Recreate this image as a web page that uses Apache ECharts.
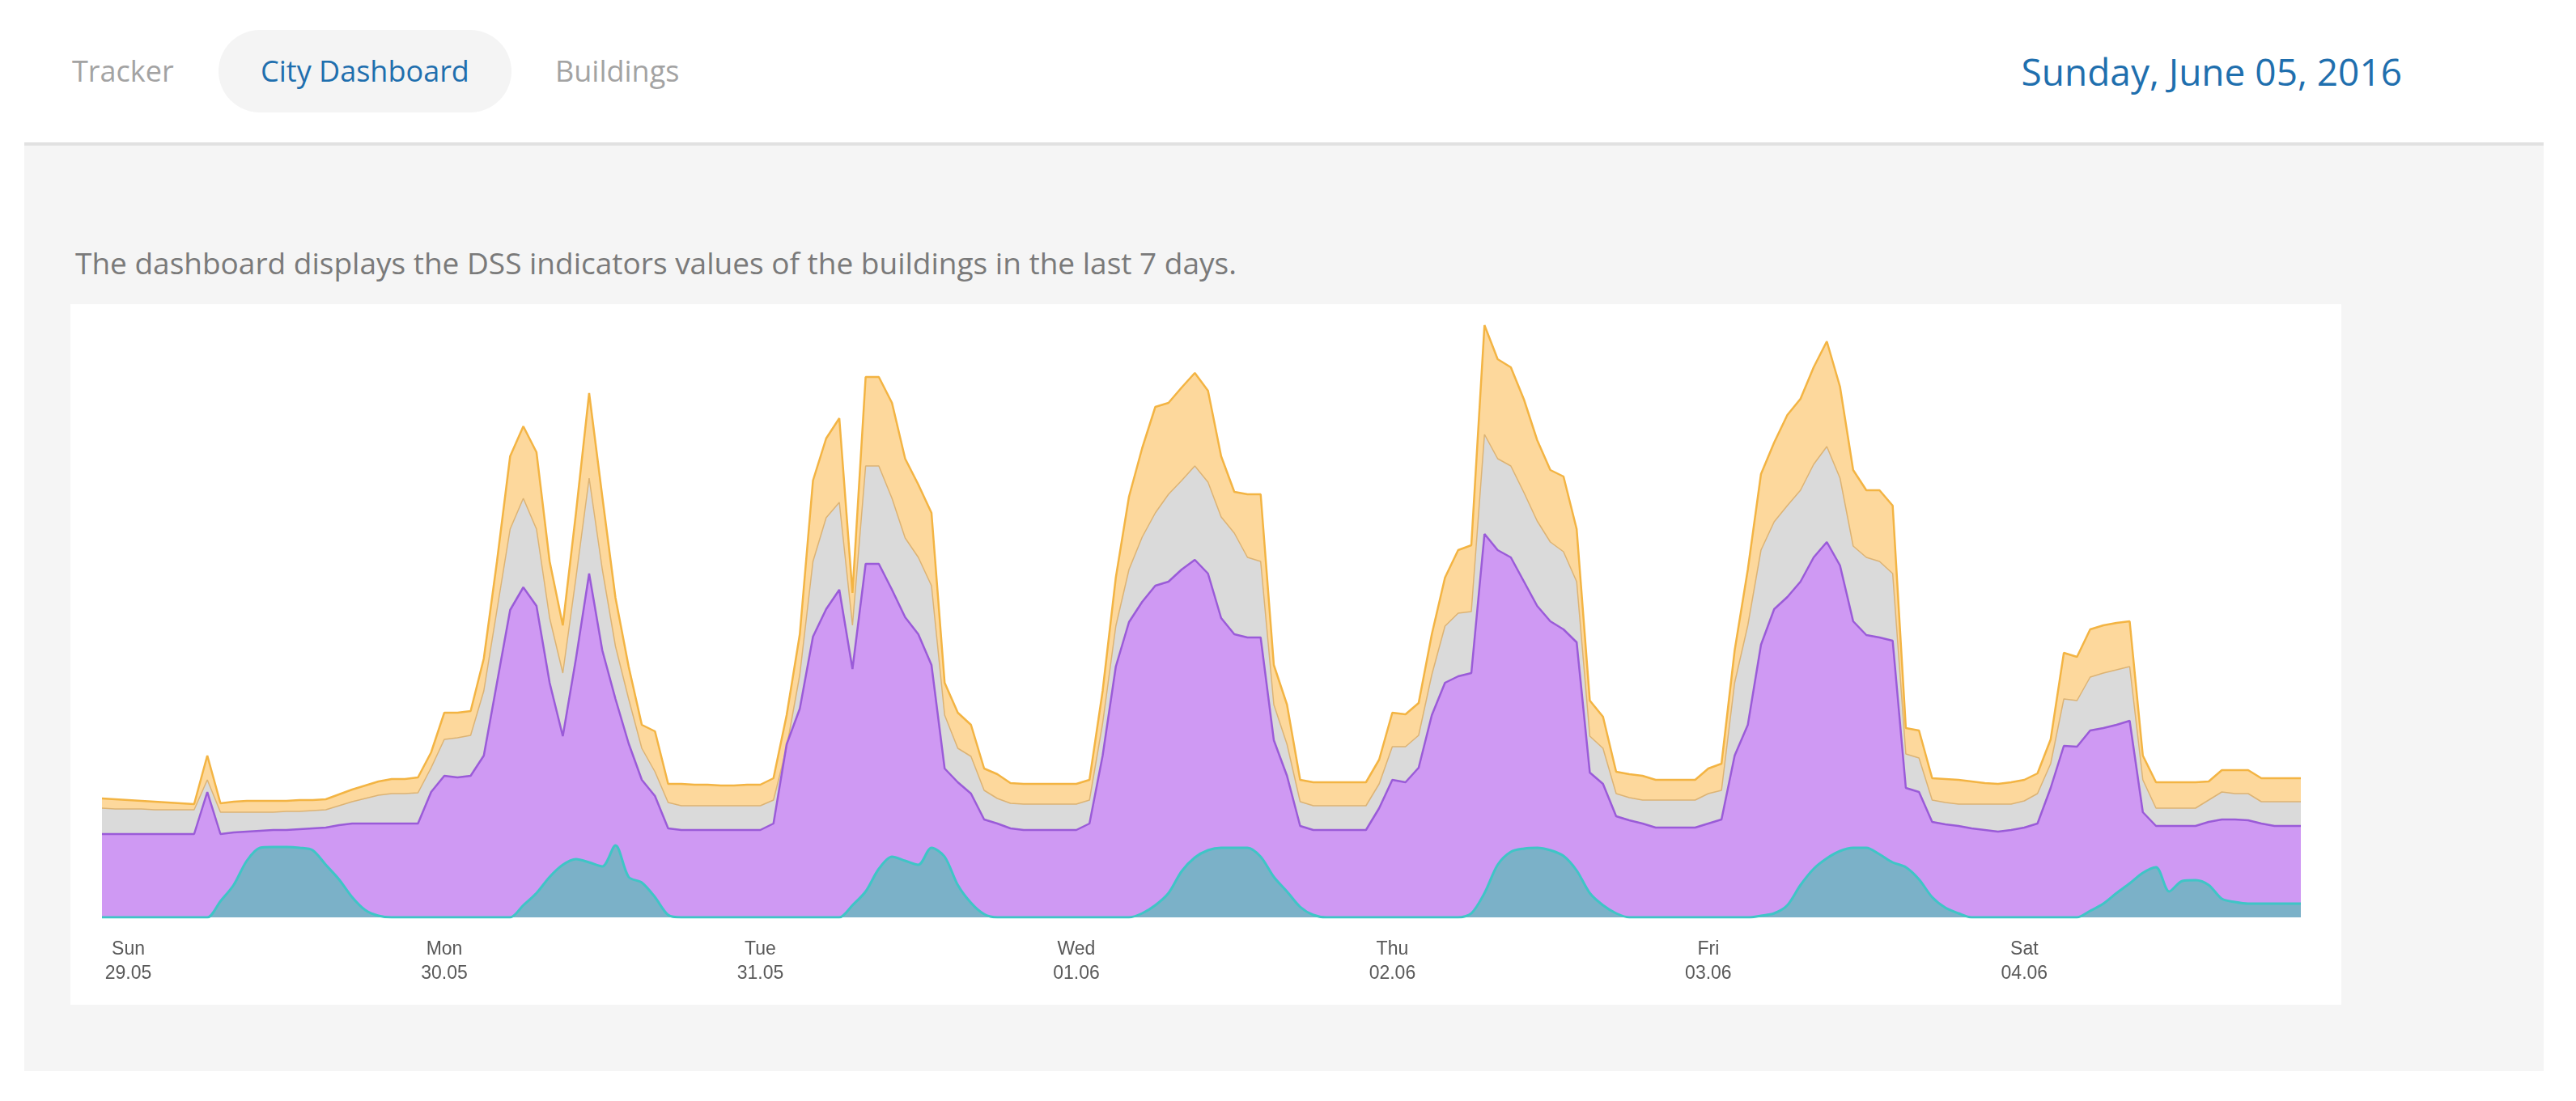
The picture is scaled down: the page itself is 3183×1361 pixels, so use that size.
<!DOCTYPE html>
<html>
<head>
<meta charset="utf-8">
<title>City Dashboard</title>
<script src="https://cdn.jsdelivr.net/npm/echarts@6/dist/echarts.min.js"></script>
<style>
  body { margin: 0; background: #fff; font-family: 'Open Sans', sans-serif; }
  #page { position: relative; width: 3183px; height: 1361px; overflow: hidden; }
  .tab { position: absolute; top: 37px; height: 102px; line-height: 102px; font-size: 36px; color: #a3a3a3; }
  .tab.active { left: 270px; width: 362px; text-align: center; background: #f4f4f4; border-radius: 51px; color: #1f6fae; }
  #date { position: absolute; left: 2400px; width: 568px; top: 37px; height: 102px; line-height: 102px; text-align: right; font-size: 46px; color: #1f6fae; }
  #content { position: absolute; left: 30px; top: 176px; width: 3113px; height: 1144px; background: #f5f5f5; border-top: 4px solid #e1e1e1; }
  #desc { position: absolute; left: 93px; top: 302px; font-size: 37px; line-height: 46px; color: #7a7a7a; }
  #chart { position: absolute; left: 87px; top: 376px; width: 2806px; height: 866px; background: #fff; }
</style>
</head>
<body>
<div id="page">
  <div class="tab" style="left:89px">Tracker</div>
  <div class="tab active">City Dashboard</div>
  <div class="tab" style="left:686px">Buildings</div>
  <div id="date">Sunday, June 05, 2016</div>
  <div id="content"></div>
  <div id="desc">The dashboard displays the DSS indicators values of the buildings in the last 7 days.</div>
  <div id="chart"></div>
</div>
<script>
// axis labels, one per day (midnight)
var dayNames = ['Sun', 'Mon', 'Tue', 'Wed', 'Thu', 'Fri', 'Sat'];
var dayDates = ['29.05', '30.05', '31.05', '01.06', '02.06', '03.06', '04.06'];

// hourly samples, first one is Sat 28.05 22:00, midnight of Sun is index 2
var firstHour = 2;

// cumulative levels (top of each band)
var orangeLevel = [
  14.7, 14.6, 14.5, 14.4, 14.3, 14.2, 14.1, 14.0, 20.0, 14.1,
  14.3, 14.4, 14.4, 14.4, 14.4, 14.5, 14.5, 14.6, 15.2, 15.8,
  16.3, 16.8, 17.1, 17.1, 17.3, 20.4, 25.3, 25.3, 25.5, 32.0,
  44.0, 57.0, 60.7, 57.5, 44.0, 36.1, 50.0, 64.8, 52.0, 39.5,
  31.0, 23.8, 23.0, 16.5, 16.5, 16.4, 16.4, 16.3, 16.3, 16.4,
  16.4, 17.2, 25.0, 35.0, 54.0, 59.2, 61.7, 40.1, 66.8, 66.8,
  63.6, 56.7, 53.5, 50.0, 29.0, 25.3, 23.8, 18.4, 17.7, 16.6,
  16.5, 16.5, 16.5, 16.5, 16.5, 17.0, 28.0, 42.0, 52.0, 58.0,
  63.1, 63.6, 65.5, 67.3, 65.1, 57.0, 52.6, 52.3, 52.3, 31.2,
  26.3, 17.0, 16.7, 16.7, 16.7, 16.7, 16.7, 19.5, 25.3, 25.1,
  26.5, 35.0, 42.0, 45.4, 46.0, 73.2, 69.0, 68.0, 64.0, 59.0,
  55.3, 54.5, 48.0, 26.8, 24.8, 18.0, 17.7, 17.5, 17.0, 17.0,
  17.0, 17.0, 18.4, 19.0, 33.0, 43.0, 54.8, 58.7, 62.1, 64.1,
  68.0, 71.2, 65.6, 55.3, 52.8, 52.8, 50.9, 23.4, 23.1, 17.2,
  17.1, 17.0, 16.8, 16.6, 16.5, 16.7, 17.0, 17.8, 22.0, 32.7,
  32.2, 35.6, 36.1, 36.4, 36.6, 20.0, 16.7, 16.7, 16.7, 16.7,
  16.8, 18.2, 18.2, 18.2, 17.2, 17.2, 17.2, 17.2
];
var grayLevel = [
  13.5, 13.4, 13.4, 13.4, 13.3, 13.3, 13.3, 13.3, 17.0, 13.0,
  13.0, 13.0, 13.0, 13.0, 13.1, 13.1, 13.2, 13.3, 13.8, 14.3,
  14.7, 15.1, 15.3, 15.3, 15.4, 18.5, 22.0, 22.2, 22.5, 28.0,
  38.0, 48.0, 51.8, 48.0, 37.0, 30.2, 42.0, 54.3, 43.0, 33.5,
  27.0, 20.9, 18.0, 14.2, 13.8, 13.8, 13.8, 13.8, 13.8, 13.8,
  13.8, 14.5, 21.0, 30.0, 44.0, 49.4, 51.3, 36.1, 55.8, 55.8,
  51.8, 46.9, 44.5, 41.0, 25.0, 20.9, 19.9, 15.7, 14.7, 14.1,
  14.0, 14.0, 14.0, 14.0, 14.0, 14.5, 24.0, 36.0, 43.0, 47.0,
  50.0, 52.3, 54.0, 55.8, 53.8, 49.5, 47.5, 44.5, 44.0, 26.3,
  21.4, 14.3, 13.8, 13.8, 13.8, 13.8, 13.8, 16.5, 21.1, 21.1,
  22.5, 30.0, 36.0, 37.6, 37.8, 59.7, 56.7, 55.8, 52.5, 49.0,
  46.4, 45.2, 41.5, 22.4, 20.9, 15.3, 14.8, 14.5, 14.5, 14.5,
  14.5, 14.5, 15.3, 15.7, 29.0, 36.1, 45.4, 48.9, 50.9, 52.8,
  56.0, 58.2, 54.3, 45.9, 44.5, 44.0, 42.5, 20.2, 19.7, 14.5,
  14.2, 14.0, 14.0, 14.0, 14.0, 14.0, 14.4, 15.3, 19.0, 27.0,
  26.8, 29.7, 30.2, 30.6, 31.0, 17.0, 13.5, 13.5, 13.5, 13.5,
  14.5, 15.5, 15.3, 15.3, 14.3, 14.3, 14.3, 14.3
];
var purpleLevel = [
  10.3, 10.3, 10.3, 10.3, 10.3, 10.3, 10.3, 10.3, 15.5, 10.3,
  10.5, 10.6, 10.7, 10.8, 10.8, 10.9, 11.0, 11.1, 11.4, 11.6,
  11.6, 11.6, 11.6, 11.6, 11.6, 15.5, 17.5, 17.3, 17.5, 20.0,
  29.0, 38.0, 40.8, 38.5, 29.0, 22.4, 32.0, 42.5, 33.0, 27.0,
  21.5, 17.0, 15.0, 11.0, 10.8, 10.8, 10.8, 10.8, 10.8, 10.8,
  10.8, 11.6, 21.4, 25.8, 34.7, 38.1, 40.5, 30.7, 43.7, 43.7,
  40.5, 37.1, 35.0, 31.2, 18.4, 16.7, 15.3, 12.1, 11.6, 11.0,
  10.8, 10.8, 10.8, 10.8, 10.8, 11.6, 20.0, 31.0, 36.5, 39.0,
  41.0, 41.5, 43.0, 44.2, 42.5, 37.0, 35.0, 34.6, 34.6, 21.9,
  17.5, 11.3, 10.8, 10.8, 10.8, 10.8, 10.8, 13.5, 17.0, 16.7,
  18.5, 25.0, 29.0, 29.8, 30.2, 47.4, 45.4, 44.5, 41.5, 38.5,
  36.6, 35.6, 34.0, 17.9, 16.5, 12.5, 12.0, 11.6, 11.1, 11.1,
  11.1, 11.1, 11.6, 12.1, 20.0, 23.8, 33.7, 38.1, 39.6, 41.5,
  44.5, 46.4, 43.5, 36.6, 34.9, 34.6, 34.2, 16.0, 15.5, 11.8,
  11.5, 11.3, 11.0, 10.8, 10.6, 10.8, 11.1, 11.6, 16.0, 21.2,
  21.1, 23.1, 23.4, 23.8, 24.3, 13.0, 11.3, 11.3, 11.3, 11.3,
  11.8, 12.1, 12.1, 12.0, 11.6, 11.3, 11.3, 11.3
];
var tealLevel = [
  0, 0, 0, 0, 0, 0, 0, 0, 0, 2.0,
  4.0, 7.0, 8.6, 8.7, 8.7, 8.6, 8.3, 6.5, 4.7, 2.5,
  0.9, 0.2, 0, 0, 0, 0, 0, 0, 0, 0,
  0, 0, 1.5, 3.0, 5.0, 6.5, 7.2, 6.8, 6.3, 8.9,
  5.0, 4.3, 2.5, 0.3, 0, 0, 0, 0, 0, 0,
  0, 0, 0, 0, 0, 0, 0, 1.5, 3.2, 6.0,
  7.5, 7.0, 6.5, 8.6, 7.5, 4.0, 1.8, 0.4, 0, 0,
  0, 0, 0, 0, 0, 0, 0, 0, 0, 0.5,
  1.5, 3.0, 5.7, 7.4, 8.3, 8.6, 8.6, 8.6, 7.5, 5.0,
  3.2, 1.3, 0.3, 0, 0, 0, 0, 0, 0, 0,
  0, 0, 0, 0, 0.5, 3.0, 6.5, 8.1, 8.5, 8.6,
  8.3, 7.6, 5.8, 3.0, 1.5, 0.5, 0, 0, 0, 0,
  0, 0, 0, 0, 0, 0, 0.2, 0.5, 1.5, 4.0,
  6.0, 7.3, 8.2, 8.6, 8.6, 7.8, 6.8, 6.2, 4.7, 2.5,
  1.2, 0.5, 0, 0, 0, 0, 0, 0, 0, 0,
  0, 0.8, 1.7, 3.0, 4.2, 5.5, 6.2, 3.2, 4.5, 4.6,
  4.0, 2.3, 1.9, 1.7, 1.7, 1.7, 1.7, 1.7
];

// category per hour
var hours = [];
for (var i = 0; i < orangeLevel.length; i++) {
  var h = i - firstHour;
  var d = Math.floor(h / 24);
  var hh = ((h % 24) + 24) % 24;
  hours.push((d < 0 ? 'Sat 28.05' : dayNames[d] + ' ' + dayDates[d]) + ' ' + (hh < 10 ? '0' : '') + hh + ':00');
}

function band(name, data, fill, stroke, width, smooth) {
  return {
    name: name,
    type: 'line',
    data: data,
    smooth: smooth,
    showSymbol: false,
    symbol: 'none',
    lineStyle: { color: stroke, width: width },
    areaStyle: { color: fill, opacity: 1 },
    emphasis: { disabled: true }
  };
}

var chart = echarts.init(document.getElementById('chart'));
chart.setOption({
  animation: false,
  grid: { left: 39, right: 50, top: 8, bottom: 108 },
  xAxis: {
    type: 'category',
    data: hours,
    boundaryGap: false,
    axisLine: { show: false },
    axisTick: { show: false },
    splitLine: { show: false },
    axisLabel: {
      interval: function(index) {
        return index >= firstHour && (index - firstHour) % 24 === 0;
      },
      formatter: function(value, index) {
        var d = Math.floor((index - firstHour) / 24);
        return dayNames[d] + '\n' + dayDates[d];
      },
      color: '#595959',
      fontFamily: 'Liberation Sans',
      fontSize: 23,
      lineHeight: 30,
      margin: 25
    }
  },
  yAxis: {
    type: 'value',
    min: 0,
    max: 75,
    show: false,
    splitLine: { show: false }
  },
  series: [
    band('Indicator 4', orangeLevel, '#fdd89c', '#f3b443', 2.5, false),
    band('Indicator 3', grayLevel, '#dadada', '#dcb374', 1.5, false),
    band('Indicator 2', purpleLevel, '#cf99f3', '#9a5bd8', 2.5, false),
    band('Indicator 1', tealLevel, '#7bb1c8', '#3fc5c6', 3, 0.3)
  ]
});
</script>
</body>
</html>
